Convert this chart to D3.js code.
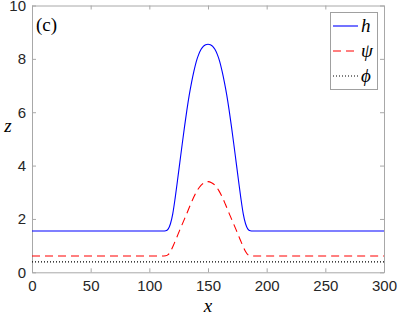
<!DOCTYPE html>
<html>
<head>
<meta charset="utf-8">
<script src="https://cdn.jsdelivr.net/npm/d3@7"></script>
<style>
  body { margin: 0; background: #fff; }
  .tick text { font-family: "Liberation Sans", Arial, sans-serif; font-size: 15px; fill: #262626; }
  .axis path, .axis line { stroke: #a8a8a8; }
</style>
</head>
<body>
<svg width="399" height="318"></svg>
<script>
'use strict';

// values
var xs   = [0, 100, 112, 114, 116, 118, 120, 122, 124, 126, 128, 130, 132, 134, 136, 138, 140, 142, 144, 146, 148, 150,
            152, 154, 156, 158, 160, 162, 164, 166, 168, 170, 172, 174, 176, 178, 180, 182, 184, 186, 188, 200, 300];
var hVal = [1.55, 1.55, 1.55, 1.56, 1.62, 1.82, 2.2, 2.78, 3.44, 4.12, 4.8, 5.46, 6.08, 6.64, 7.12, 7.54, 7.9, 8.16, 8.35, 8.47, 8.53, 8.55,
            8.53, 8.47, 8.35, 8.16, 7.9, 7.54, 7.12, 6.64, 6.08, 5.46, 4.8, 4.12, 3.44, 2.78, 2.2, 1.82, 1.62, 1.56, 1.55, 1.55, 1.55];
var psiX = [0, 100, 110, 114, 116, 118, 120, 123, 126, 129, 132, 135, 138, 141, 144, 147, 150,
            153, 156, 159, 162, 165, 168, 171, 174, 177, 180, 182, 184, 186, 190, 200, 300];
var psiVal = [0.61, 0.61, 0.61, 0.62, 0.66, 0.78, 0.96, 1.27, 1.59, 1.9, 2.21, 2.53, 2.83, 3.08, 3.26, 3.36, 3.40,
              3.36, 3.26, 3.08, 2.83, 2.53, 2.21, 1.9, 1.59, 1.27, 0.96, 0.78, 0.66, 0.62, 0.61, 0.61, 0.61];
var phiX = [0, 300];
var phiVal = [0.39, 0.39];

var xTicks = [0, 50, 100, 150, 200, 250, 300];
var yTicks = [0, 2, 4, 6, 8, 10];
var legendLabels = ["h", "ψ", "ϕ"];

var plotLeft = 32, plotRight = 384, plotTop = 5.5, plotBottom = 272.3;

var svg = d3.select("svg");

var x = d3.scaleLinear().domain([0, 300]).range([plotLeft, plotRight]);
var y = d3.scaleLinear().domain([0, 10]).range([plotBottom, plotTop]);

// axes, ticks pointing inward
svg.append("g").attr("class", "axis")
    .attr("transform", "translate(0," + plotBottom + ")")
    .call(d3.axisBottom(x).tickValues(xTicks).tickSize(-4).tickPadding(8).tickSizeOuter(0));
svg.append("g").attr("class", "axis")
    .attr("transform", "translate(0," + plotTop + ")")
    .call(d3.axisTop(x).tickValues(xTicks).tickSize(-4).tickFormat("").tickSizeOuter(0));
svg.append("g").attr("class", "axis")
    .attr("transform", "translate(" + plotLeft + ",0)")
    .call(d3.axisLeft(y).tickValues(yTicks).tickSize(-4).tickPadding(6).tickSizeOuter(0));
svg.append("g").attr("class", "axis")
    .attr("transform", "translate(" + plotRight + ",0)")
    .call(d3.axisRight(y).tickValues(yTicks).tickSize(-4).tickFormat("").tickSizeOuter(0));

svg.selectAll(".axis .domain").attr("stroke", "#a8a8a8");

var line = d3.line().curve(d3.curveMonotoneX);

function pts(xa, ya) {
    return xa.map(function (v, i) { return [x(v), y(ya[i])]; });
}

var series = [
    {px: xs, py: hVal, color: "#0000ff", dash: null},
    {px: psiX, py: psiVal, color: "#ff0000", dash: "8,5"},
    {px: phiX, py: phiVal, color: "#000000", dash: "1,2"}
];

svg.selectAll(".curve")
    .data(series)
    .enter()
    .append("path")
    .attr("class", "curve")
    .attr("d", function (d) { return line(pts(d.px, d.py)); })
    .attr("fill", "none")
    .attr("stroke", function (d) { return d.color; })
    .attr("stroke-width", 1.1)
    .attr("stroke-dasharray", function (d) { return d.dash; });

// panel label
svg.append("text")
    .attr("x", 36).attr("y", 31)
    .attr("font-family", "Liberation Serif, serif")
    .attr("font-size", 19)
    .text("(c)");

// axis labels
svg.append("text")
    .attr("x", x(150)).attr("y", 312)
    .attr("text-anchor", "middle")
    .attr("font-family", "Liberation Serif, serif")
    .attr("font-style", "italic")
    .attr("font-size", 19)
    .text("x");
svg.append("text")
    .attr("x", 8).attr("y", 132)
    .attr("text-anchor", "middle")
    .attr("font-family", "Liberation Serif, serif")
    .attr("font-style", "italic")
    .attr("font-size", 19)
    .text("z");

// legend
var legend = svg.append("g");
legend.append("rect")
    .attr("x", 330.5).attr("y", 12.5)
    .attr("width", 47).attr("height", 77)
    .attr("fill", "#fff")
    .attr("stroke", "#a0a0a0");

var items = legend.selectAll(".item")
    .data(series)
    .enter()
    .append("g")
    .attr("transform", function (d, i) { return "translate(0," + (26 + i * 25) + ")"; });
items.append("line")
    .attr("x1", 333).attr("x2", 358)
    .attr("stroke", function (d) { return d.color; })
    .attr("stroke-width", 1.1)
    .attr("stroke-dasharray", function (d) { return d.dash; });
items.append("text")
    .attr("x", 361).attr("y", 6)
    .attr("font-family", "Liberation Serif, serif")
    .attr("font-style", "italic")
    .attr("font-size", 19)
    .text(function (d, i) { return legendLabels[i]; });
</script>
</body>
</html>
